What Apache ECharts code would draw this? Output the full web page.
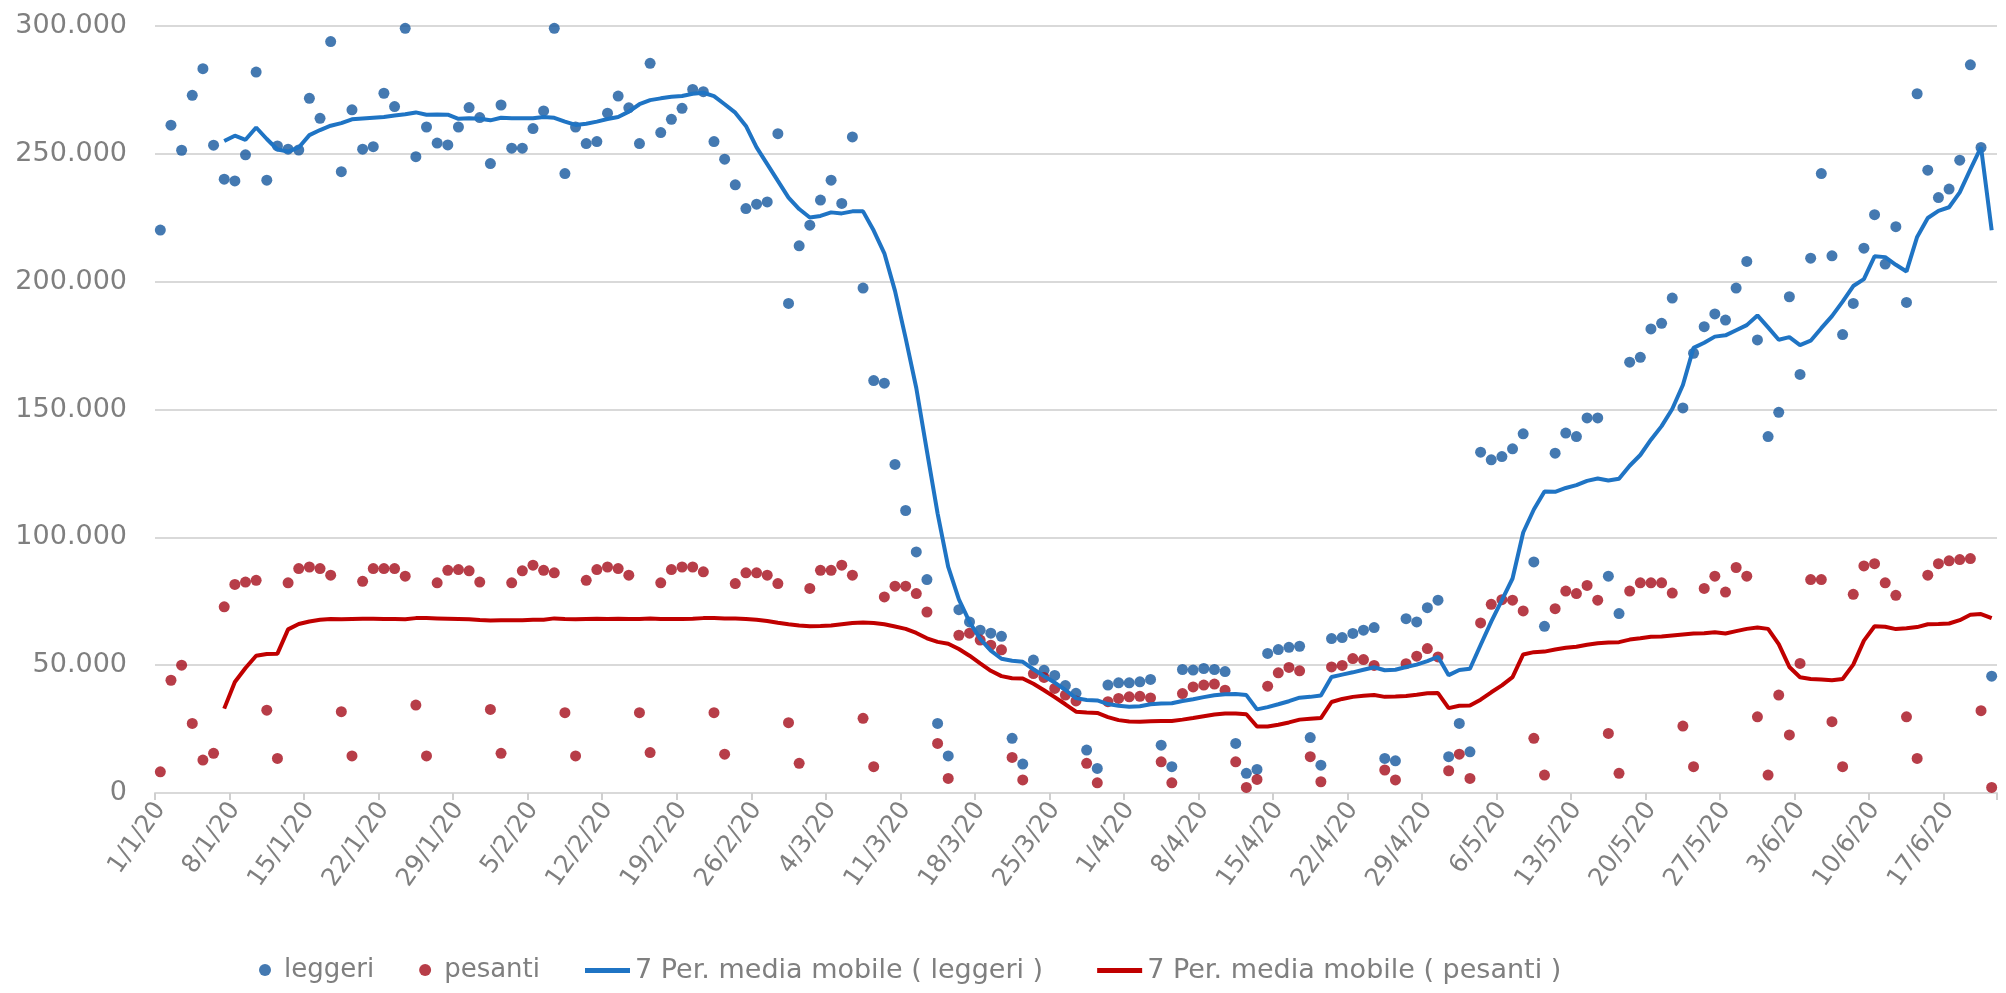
<!DOCTYPE html>
<html>
<head>
<meta charset="utf-8">
<title>Traffico leggeri e pesanti 2020</title>
<script src="https://cdn.jsdelivr.net/npm/echarts@6/dist/echarts.min.js"></script>
<style>
  html, body { margin: 0; padding: 0; background: #ffffff; }
  #chart { width: 2006px; height: 993px; }
</style>
</head>
<body>
<div id="chart"></div>
<script>
// Daily categories, 1 January - 21 June 2020
const days = [
  '1/1/20','2/1/20','3/1/20','4/1/20','5/1/20','6/1/20','7/1/20','8/1/20','9/1/20','10/1/20',
  '11/1/20','12/1/20','13/1/20','14/1/20','15/1/20','16/1/20','17/1/20','18/1/20','19/1/20','20/1/20',
  '21/1/20','22/1/20','23/1/20','24/1/20','25/1/20','26/1/20','27/1/20','28/1/20','29/1/20','30/1/20','31/1/20',
  '1/2/20','2/2/20','3/2/20','4/2/20','5/2/20','6/2/20','7/2/20','8/2/20','9/2/20','10/2/20',
  '11/2/20','12/2/20','13/2/20','14/2/20','15/2/20','16/2/20','17/2/20','18/2/20','19/2/20','20/2/20',
  '21/2/20','22/2/20','23/2/20','24/2/20','25/2/20','26/2/20','27/2/20','28/2/20','29/2/20',
  '1/3/20','2/3/20','3/3/20','4/3/20','5/3/20','6/3/20','7/3/20','8/3/20','9/3/20','10/3/20',
  '11/3/20','12/3/20','13/3/20','14/3/20','15/3/20','16/3/20','17/3/20','18/3/20','19/3/20','20/3/20',
  '21/3/20','22/3/20','23/3/20','24/3/20','25/3/20','26/3/20','27/3/20','28/3/20','29/3/20','30/3/20','31/3/20',
  '1/4/20','2/4/20','3/4/20','4/4/20','5/4/20','6/4/20','7/4/20','8/4/20','9/4/20','10/4/20',
  '11/4/20','12/4/20','13/4/20','14/4/20','15/4/20','16/4/20','17/4/20','18/4/20','19/4/20','20/4/20',
  '21/4/20','22/4/20','23/4/20','24/4/20','25/4/20','26/4/20','27/4/20','28/4/20','29/4/20','30/4/20',
  '1/5/20','2/5/20','3/5/20','4/5/20','5/5/20','6/5/20','7/5/20','8/5/20','9/5/20','10/5/20',
  '11/5/20','12/5/20','13/5/20','14/5/20','15/5/20','16/5/20','17/5/20','18/5/20','19/5/20','20/5/20',
  '21/5/20','22/5/20','23/5/20','24/5/20','25/5/20','26/5/20','27/5/20','28/5/20','29/5/20','30/5/20','31/5/20',
  '1/6/20','2/6/20','3/6/20','4/6/20','5/6/20','6/6/20','7/6/20','8/6/20','9/6/20','10/6/20',
  '11/6/20','12/6/20','13/6/20','14/6/20','15/6/20','16/6/20','17/6/20','18/6/20','19/6/20','20/6/20','21/6/20'
];

// Light vehicles, daily count
const leggeri = [
  220200,261200,251400,272900,283300,253400,240100,239400,249600,282000,
  239700,253100,251800,251500,271700,263900,293900,243000,267200,251800,
  252800,273700,268500,299100,248900,260500,254200,253500,260500,268100,264200,
  246200,269100,252200,252200,259900,266800,299100,242300,260500,254000,
  254800,265900,272600,268000,254000,285400,258300,263500,267800,275200,
  274300,254800,247900,237900,228600,230300,231200,257900,191500,
  214000,222100,231900,239700,230600,256600,197500,161300,160300,128500,
  110500,94300,83500,27200,14500,71700,66900,63700,62500,61300,
  21400,11300,52000,48000,46000,42000,39000,16800,9600,42200,43100,
  43100,43500,44400,18700,10300,48300,48100,48700,48300,47500,
  19400,7700,9200,54600,56100,57000,57400,21700,10900,60400,
  60800,62400,63700,64700,13500,12600,68200,66900,72500,75400,
  14200,27200,16100,133300,130300,131600,134600,140500,90400,65200,
  132900,140800,139400,146700,146700,84800,70200,168500,170400,181500,
  183700,193600,150600,172000,182400,187400,185000,197500,207900,177200,139400,
  148900,194100,163700,209200,242300,210100,179300,191500,213100,226200,
  206900,221500,191900,273500,243600,232900,236200,247500,284800,252500,45700
];

// Heavy vehicles, daily count
const pesanti = [
  8300,44100,50000,27200,12900,15500,72800,81600,82500,83200,
  32400,13500,82200,87800,88400,87800,85200,31800,14500,82800,
  87800,87800,87800,84800,34400,14500,82200,87100,87400,86900,82500,
  32700,15500,82200,86900,89100,87100,86100,31400,14500,83200,
  87400,88400,87800,85200,31400,15800,82200,87400,88400,88400,
  86500,31400,15200,81900,86100,86100,85200,81900,27500,
  11600,80000,87100,87100,89100,85200,29200,10300,76700,80900,
  80900,78000,70800,19400,5700,61700,62500,59800,57800,56000,
  13900,5100,46700,45200,40900,38300,36000,11600,4000,35700,37000,
  37600,37800,37200,12200,4000,38900,41500,42200,42600,40200,
  12200,2200,5300,41800,47000,49100,47800,14200,4400,49300,
  49900,52600,52200,49900,9000,5100,50600,53500,56500,53200,
  8700,15200,5700,66500,73800,75600,75400,71200,21400,7000,
  72100,79000,78000,81200,75400,23300,7700,79000,82200,82200,
  82200,78200,26200,10300,80000,84800,78600,88200,84800,29800,7000,
  38300,22700,50700,83500,83500,27900,10300,77700,88800,89700,
  82200,77300,29800,13500,85200,89700,90800,91300,91700,32200,2200
];

// 7-period moving average, light vehicles
const mediaLeggeri = [
  null,null,null,null,null,null,255000,257100,255500,260300,
  255800,251700,250900,252500,257300,259300,261000,262000,263500,263800,
  264100,264400,265000,265500,266200,265300,265400,265300,263700,263900,263700,
  263100,264100,263900,263900,263900,264400,264100,262600,261300,261800,
  262600,263600,264400,266500,269400,271000,271700,272300,272600,273500,
  273900,272600,269400,266100,260900,252500,246000,239400,232900,
  228400,225100,225700,227100,226700,227500,227500,220000,211100,196400,
  177900,158400,133700,109400,88400,75700,66900,60300,55700,52500,
  51700,51300,48400,45700,43200,40300,37100,36400,36200,34800,34100,
  33700,33900,34700,35000,35100,36000,36700,37500,38200,38600,
  38700,38300,32700,33600,34700,35900,37300,37600,38100,45400,
  46300,47200,48200,49200,48000,48200,49300,50200,51600,53300,
  46100,48100,48600,57900,67000,75400,83900,101900,110900,117900,
  117800,119300,120400,122100,123000,122200,122900,128000,132200,138200,
  143500,150200,159600,174100,176100,178500,179000,181000,183000,186800,182100,
  177300,178300,175200,176900,181800,186500,192200,198300,201000,209900,
  209600,206600,204000,217500,224900,227700,229100,234900,243900,252600,220100
];

// 7-period moving average, heavy vehicles
const mediaPesanti = [
  null,null,null,null,null,null,33000,43400,48900,53700,
  54400,54500,64000,66100,67100,67800,68100,68000,68100,68200,
  68200,68100,68100,68000,68400,68400,68300,68200,68100,68000,67700,
  67500,67600,67600,67600,67800,67800,68300,68100,68000,68100,
  68200,68100,68200,68100,68100,68300,68100,68100,68100,68200,
  68400,68400,68300,68300,68100,67800,67300,66600,66000,
  65500,65200,65300,65500,66000,66500,66700,66500,66000,65100,
  64200,62600,60500,59100,58400,56300,53700,50700,47800,45700,
  44900,44800,42700,40200,37500,34700,31800,31500,31300,29700,28500,
  28000,27900,28100,28200,28200,28700,29300,30000,30700,31100,
  31100,30800,26000,26000,26700,27600,28700,29000,29300,35600,
  36800,37600,38000,38300,37600,37700,37900,38400,39000,39100,
  33200,34100,34200,36500,39400,42100,45300,54200,55100,55300,
  56100,56800,57200,58000,58600,58900,59000,60000,60500,61100,
  61200,61600,62000,62400,62500,62900,62400,63300,64200,64700,64200,
  58200,49300,45300,44600,44400,44100,44600,50200,59600,65200,
  65000,64100,64400,64900,66000,66100,66300,67600,69700,70000,68400
];

// Value axis ticks
const yMin = 0;
const yMax = 300000;
const yStep = 50000;

const NAMES = ['leggeri', 'pesanti', '7 Per. media mobile ( leggeri )', '7 Per. media mobile ( pesanti )'];
const COLORS = ['#15579e', '#a50d1a', '#1f74c4', '#c00000'];
const TEXT = '#7f7f7f';
const FONT = 'DejaVu Sans';

function thousands(v) {
  return String(v).replace(/\B(?=(\d{3})+(?!\d))/g, '.');
}

const chart = echarts.init(document.getElementById('chart'), null, { renderer: 'canvas' });

chart.setOption({
  animation: false,
  backgroundColor: '#ffffff',
  textStyle: { fontFamily: FONT },
  grid: { left: 155, right: 9, top: 26, bottom: 200, containLabel: false },
  legend: [
    {
      data: [
        { name: NAMES[0], icon: 'circle' },
        { name: NAMES[1], icon: 'circle' }
      ],
      left: 254, top: 952,
      itemWidth: 12, itemHeight: 12, itemGap: 45,
      textStyle: { color: TEXT, fontSize: 26, fontFamily: FONT, padding: [0, 0, 0, 8] }
    },
    {
      data: [
        { name: NAMES[2], icon: 'rect' },
        { name: NAMES[3], icon: 'rect' }
      ],
      left: 580, top: 952,
      itemWidth: 45, itemHeight: 5, itemGap: 54,
      textStyle: { color: TEXT, fontSize: 27, fontFamily: FONT, padding: [0, 0, 0, 0] }
    }
  ],
  xAxis: {
    type: 'category',
    data: days,
    boundaryGap: true,
    axisLine: { lineStyle: { color: '#d9d9d9', width: 2 } },
    axisTick: { show: true, interval: 6, length: 7, lineStyle: { color: '#cfcfcf', width: 2 } },
    axisLabel: {
      interval: 6, rotate: 55, margin: 12,
      color: TEXT, fontSize: 25, fontFamily: FONT
    },
    splitLine: { show: false }
  },
  yAxis: {
    type: 'value',
    min: yMin, max: yMax, interval: yStep,
    axisLine: { show: false },
    axisTick: { show: false },
    axisLabel: {
      margin: 28, color: TEXT, fontSize: 27, fontFamily: FONT,
      formatter: thousands
    },
    splitLine: { lineStyle: { color: '#d9d9d9', width: 2 } }
  },
  series: [
    {
      name: NAMES[0], type: 'scatter', data: leggeri,
      symbol: 'circle', symbolSize: 11,
      itemStyle: { color: COLORS[0] }, z: 2
    },
    {
      name: NAMES[1], type: 'scatter', data: pesanti,
      symbol: 'circle', symbolSize: 11,
      itemStyle: { color: COLORS[1] }, z: 2
    },
    {
      name: NAMES[2], type: 'line', data: mediaLeggeri,
      showSymbol: false, smooth: false, connectNulls: false,
      lineStyle: { color: COLORS[2], width: 4 },
      itemStyle: { color: COLORS[2] }, z: 3
    },
    {
      name: NAMES[3], type: 'line', data: mediaPesanti,
      showSymbol: false, smooth: false, connectNulls: false,
      lineStyle: { color: COLORS[3], width: 4 },
      itemStyle: { color: COLORS[3] }, z: 3
    }
  ]
});
</script>
</body>
</html>
